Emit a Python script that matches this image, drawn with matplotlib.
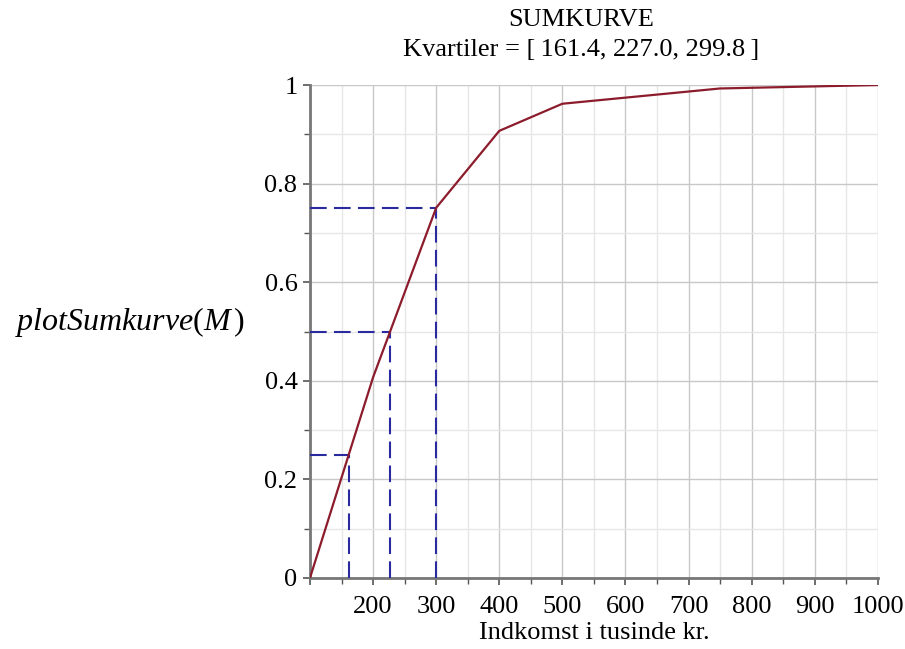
import numpy as np
import matplotlib.pyplot as plt
from matplotlib.ticker import MultipleLocator

plt.rcParams['font.family'] = ['Liberation Serif', 'DejaVu Serif']
plt.rcParams['mathtext.fontset'] = 'custom'
plt.rcParams['mathtext.rm'] = 'Liberation Serif'
plt.rcParams['mathtext.it'] = 'Liberation Serif:italic'

# cumulative distribution (income in 1000 kr.)
indkomst = [100, 200, 300, 400, 500, 750, 1000]
sumfrekvens = [0.0, 0.407, 0.751, 0.907, 0.962, 0.993, 1.0]

kvartil_p = [0.25, 0.5, 0.75]
kvartiler = [161.4, 227.0, 299.8]

fig = plt.figure(figsize=(9.05, 6.49), dpi=100)
ax = fig.add_axes([0.3425, 0.1094, 0.6275, 0.7596])

ax.plot(indkomst, sumfrekvens, color='#8c1c2c', lw=1.6, zorder=4)

for p, q in zip(kvartil_p, kvartiler):
    ax.plot([100, q], [p, p], color='#2a2aa0', lw=1.5, ls=(0, (8, 3.5)), zorder=3)
    ax.plot([q, q], [0, p], color='#2a2aa0', lw=1.5, ls=(0, (8, 3.5)), zorder=3)

ax.set_xlim(100, 1000)
ax.set_ylim(0, 1)
ax.xaxis.set_minor_locator(MultipleLocator(50))
ax.yaxis.set_minor_locator(MultipleLocator(0.1))
ax.set_xticks(np.arange(100, 1001, 100))
ax.set_xticklabels([''] + [str(v) for v in range(200, 1001, 100)])
ax.set_yticks([0, 0.2, 0.4, 0.6, 0.8, 1.0])
ax.set_yticklabels(['0', '0.2', '0.4', '0.6', '0.8', '1'])

ax.grid(which='major', color='#c8c8c8', lw=1.0)
ax.grid(which='minor', color='#e6e6e6', lw=1.0)
ax.set_axisbelow(True)

for s in ['top', 'right']:
    ax.spines[s].set_visible(False)
for s in ['left', 'bottom']:
    ax.spines[s].set_color('#777777')
    ax.spines[s].set_linewidth(2.0)

ax.tick_params(which='both', colors='#555555', labelcolor='black', labelsize=19)
ax.tick_params(which='major', length=5, width=1.2)
ax.tick_params(which='minor', length=4, width=1.0)
ax.tick_params(axis='y', pad=4)
ax.tick_params(axis='x', pad=8)

ax.set_xlabel('Indkomst i tusinde kr.', fontsize=19, labelpad=3)
ax.text(-0.114, 0.52, r'$\mathit{plotSumkurve}(M\,)$', transform=ax.transAxes,
        fontsize=23, ha='right', va='center')
fig.text(0.642, 0.969, 'SUMKURVE', fontsize=19, ha='center', va='center')
fig.text(0.642, 0.923, 'Kvartiler = [\u2009161.4, 227.0, 299.8\u2009]', fontsize=19,
         ha='center', va='center')

fig.savefig('out.png', dpi=100)
